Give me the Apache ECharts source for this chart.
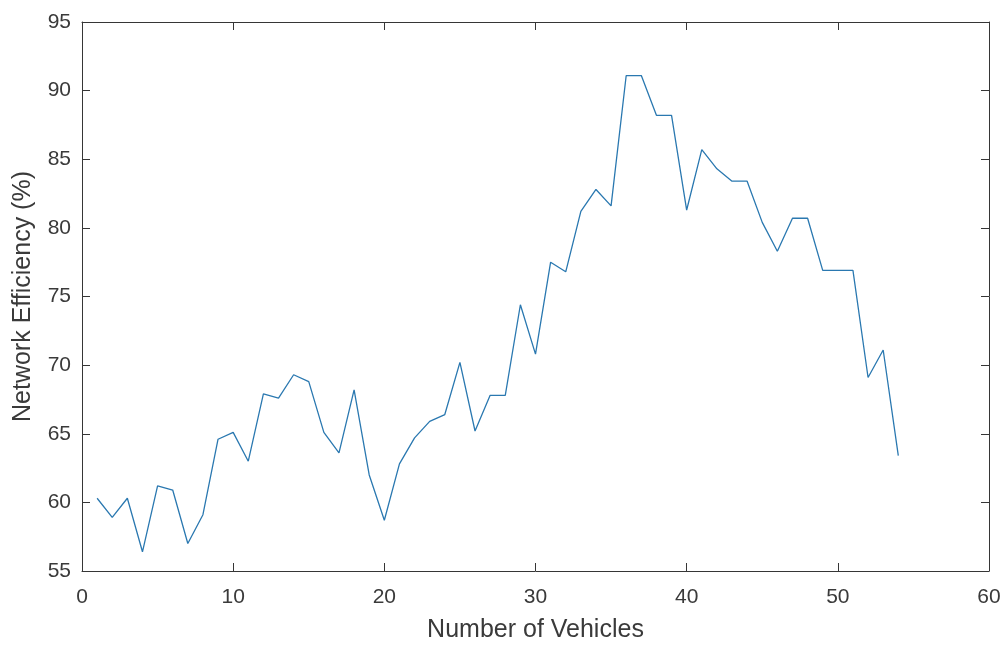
<!DOCTYPE html>
<html>
<head>
<meta charset="utf-8">
<script src="https://cdn.jsdelivr.net/npm/echarts@6/dist/echarts.min.js"></script>
<style>
  html, body { margin: 0; padding: 0; background: #fff; }
  #chart { width: 1005px; height: 648px; }
</style>
</head>
<body>
<div id="chart"></div>
<script>
// number of vehicles (x) and network efficiency in % (y)
var vehicles = [];
for (var i = 1; i <= 54; i++) vehicles.push(i);
var efficiency = [
  60.3, 58.9, 60.3, 56.4, 61.2, 60.9, 57.0, 59.1, 64.6, 65.1,
  63.0, 67.9, 67.6, 69.3, 68.8, 65.1, 63.6, 68.2, 62.0, 58.7,
  62.8, 64.7, 65.9, 66.4, 70.2, 65.2, 67.8, 67.8, 74.4, 70.8,
  77.5, 76.8, 81.2, 82.8, 81.6, 91.1, 91.1, 88.2, 88.2, 81.3,
  85.7, 84.3, 83.4, 83.4, 80.4, 78.3, 80.7, 80.7, 76.9, 76.9,
  76.9, 69.1, 71.1, 63.4
];

var axisColor = '#363636';
var textColor = '#3a3a3a';
var font = 'Liberation Sans, Arial, sans-serif';

var chart = echarts.init(document.getElementById('chart'), null, { renderer: 'canvas' });

var plainAxis = {
  axisLine: { show: true, onZero: false, lineStyle: { color: axisColor, width: 1 } },
  axisTick: { show: true, inside: true, length: 8, lineStyle: { color: axisColor } },
  splitLine: { show: false }
};

var option = {
  animation: false,
  backgroundColor: '#fff',
  grid: { left: 82, right: 16, top: 22, bottom: 73 },
  xAxis: [
    Object.assign({
      type: 'value', min: 0, max: 60, interval: 10,
      name: 'Number of Vehicles', nameLocation: 'middle', nameGap: 47,
      nameTextStyle: { fontSize: 25, color: textColor, fontFamily: font },
      axisLabel: { fontSize: 21, color: textColor, fontFamily: font, margin: 16 }
    }, plainAxis),
    Object.assign({
      type: 'value', min: 0, max: 60, interval: 10, position: 'top',
      axisLabel: { show: false }
    }, plainAxis)
  ],
  yAxis: [
    Object.assign({
      type: 'value', min: 55, max: 95, interval: 5,
      name: 'Network Efficiency (%)', nameLocation: 'middle', nameGap: 46,
      nameTextStyle: { fontSize: 25, color: textColor, fontFamily: font },
      axisLabel: { fontSize: 21, color: textColor, fontFamily: font, margin: 11 }
    }, plainAxis),
    Object.assign({
      type: 'value', min: 55, max: 95, interval: 5, position: 'right',
      axisLabel: { show: false }
    }, plainAxis)
  ],
  series: [
    {
      type: 'line',
      data: vehicles.map(function (v, i) { return [v, efficiency[i]]; }),
      showSymbol: false,
      lineStyle: { color: '#2a78b0', width: 1.3 }
    }
  ]
};

chart.setOption(option);
</script>
</body>
</html>
